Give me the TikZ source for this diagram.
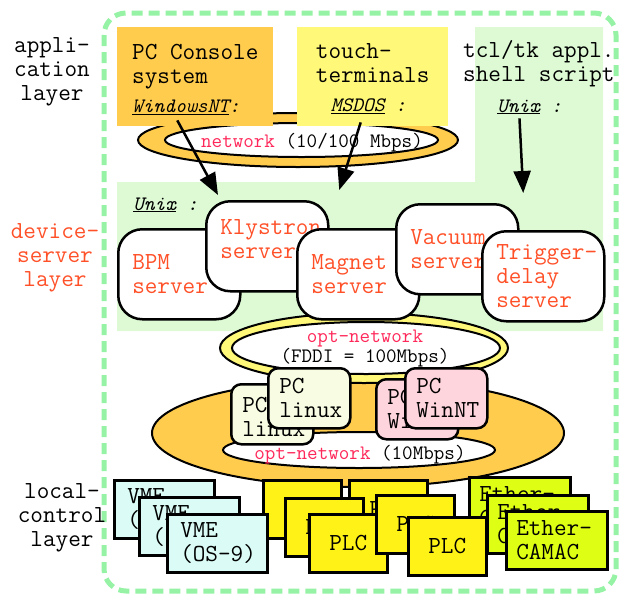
\documentclass[tikz,border=0pt]{standalone}
\usetikzlibrary{arrows.meta,shapes.geometric,positioning}

\definecolor{framegreen}{RGB}{150,242,165}
\definecolor{regiongreen}{RGB}{221,250,213}
\definecolor{netorange}{RGB}{255,204,77}
\definecolor{termyellow}{RGB}{255,248,120}
\definecolor{srvred}{RGB}{255,80,40}
\definecolor{netred}{RGB}{255,40,90}
\definecolor{linuxfill}{RGB}{248,252,226}
\definecolor{winfill}{RGB}{255,213,221}
\definecolor{vmefill}{RGB}{219,252,246}
\definecolor{plcfill}{RGB}{255,242,22}
\definecolor{camacfill}{RGB}{222,255,20}

\newcommand\bigfont{\fontsize{24.5}{24}\selectfont\ttfamily}
\newcommand\smallfont{\fontsize{20.5}{18}\selectfont\ttfamily}
\hyphenpenalty=10000
\exhyphenpenalty=10000

\begin{document}
\begin{tikzpicture}[
  x=1pt, y=-1pt,
  every node/.style={font=\bigfont, inner sep=0pt},
  box/.style={draw, line width=2.5pt, anchor=north west, align=left},
  appbox/.style={anchor=north west, inner xsep=15pt, align=left, minimum height=99pt},
  server/.style={box, fill=white, rounded corners=24pt, minimum width=122pt,
    minimum height=90pt, text width=94pt, inner xsep=14pt, text=srvred},
  pcbox/.style={box, rounded corners=10pt, minimum width=82pt, minimum height=60pt,
    text width=60pt, inner xsep=11pt},
  vmebox/.style={box, fill=vmefill, minimum width=100pt, minimum height=58pt,
    text width=74pt, inner xsep=13pt},
  plcbox/.style={box, fill=plcfill, minimum width=78pt, minimum height=58pt, align=center},
  camacbox/.style={box, fill=camacfill, minimum width=101pt, minimum height=58pt,
    text width=81pt, inner xsep=10pt},
  ring/.style={draw, line width=2pt},
  hole/.style={ellipse, draw, line width=2pt, fill=white},
  bigarrow/.style={line width=2.5pt, -{Triangle[length=22pt,width=17pt]}},
  layertext/.style={align=center, anchor=north}
]
\useasboundingbox (0,0) rectangle (625,598);

% frame and background
\draw[framegreen, line width=5pt, dash pattern=on 11pt off 6pt, rounded corners=22pt]
  (104,13) rectangle (616,591);
\fill[regiongreen] (475,27) -- (603,27) -- (603,331) -- (117,331) -- (117,182)
  -- (475,182) -- cycle;

% application layer
\draw[ring, fill=netorange] (298,140) ellipse [x radius=160pt, y radius=27pt];
\node[hole, minimum width=273pt, minimum height=34pt] (lan) at (301.5,140) {};
\node[anchor=base, font=\smallfont] (lantext) at (312,147)
  {\textcolor{netred}{network} (10/100 Mbps)};

\node[appbox, fill=netorange, minimum width=156pt] (pcc) at (117,27)
  {\rule{0pt}{21pt}PC Console\\system\\[5pt]{\smallfont\itshape\underline{WindowsNT}:}};
\node[appbox, fill=termyellow, minimum width=151pt] (touch) at (297,27)
  {\rule{0pt}{19pt}touch-\\terminals\\[5pt]\hspace*{15pt}{\smallfont\itshape\underline{MSDOS} :}};
\node[anchor=north west, align=left] (tcl) at (463,40) {tcl/tk appl.\\shell script};
\node[anchor=base west, font=\smallfont] (unixa) at (497,112) {\itshape\underline{Unix} :};

% device-server layer
\node[anchor=base west, font=\smallfont] (unixb) at (133,210) {\itshape\underline{Unix} :};

% local control layer network
\draw[ring, fill=netorange] (358,433) ellipse [x radius=206pt, y radius=54pt];
\node[hole, minimum width=272pt, minimum height=36pt] (ctl) at (359,450) {};
\node[anchor=base, font=\smallfont] (ctltext) at (360,459)
  {\textcolor{netred}{opt-network} (10Mbps)};

% FDDI
\draw[ring, fill=termyellow] (364,348) ellipse [x radius=144pt, y radius=35pt];
\node[hole, minimum width=268pt, minimum height=52pt] (fddi) at (366,348) {};
\node[anchor=north, align=center, font=\smallfont] (fdditext) at (365,330)
  {\textcolor{netred}{opt-network}\\(FDDI = 100Mbps)};

% servers
\node[server] (bpm) at (117,228) {BPM\\server};
\node[server] (klys) at (205,200) {Klystron\\server\rule[-14pt]{0pt}{0pt}};
\node[server] (mag) at (296,228) {Magnet\\server};
\node[server] (vac) at (395,203) {Vacuum\\server};
\node[server] (trig) at (481,230) {Trigger-\\delay\\server};

% arrows
\draw[bigarrow] ([xshift=-18pt,yshift=6pt]pcc.south) -- ([xshift=13pt,yshift=5pt]klys.north west);
\draw[bigarrow] ([xshift=-12pt,yshift=4pt]touch.south) -- ([xshift=-19pt,yshift=38pt]mag.north);
\draw[bigarrow] ([xshift=-10pt,yshift=-4pt]unixa.south) -- ([xshift=-20pt,yshift=37pt]trig.north);

% PCs
\node[pcbox, fill=linuxfill] (linux1) at (230,383) {\rule{0pt}{20pt}PC\\linux};
\node[pcbox, fill=linuxfill] (linux2) at (267,367) {PC\\linux};
\node[pcbox, fill=winfill] (winnt1) at (375,378) {PC\\WinNT};
\node[pcbox, fill=winfill] (winnt2) at (404,367) {PC\\WinNT};

% Ether-CAMAC
\node[camacbox] (camac1) at (468,476) {Ether-\\CAMAC};
\node[camacbox] (camac2) at (486,494) {Ether-\\CAMAC};
\node[camacbox] (camac3) at (505,510) {Ether-\\CAMAC};

% PLCs
\node[plcbox] (plc1) at (262,479) {PLC};
\node[plcbox] (plc4) at (348,479) {PLC};
\node[plcbox] (plc2) at (284,497) {PLC};
\node[plcbox] (plc3) at (308,513) {PLC};
\node[plcbox] (plc5) at (375,494) {PLC};
\node[plcbox] (plc6) at (407,516) {PLC};

% VMEs
\node[vmebox] (vme1) at (113,479) {VME\\(OS-9)};
\node[vmebox] (vme2) at (138,496) {VME\\(OS-9)};
\node[vmebox] (vme3) at (166,513) {VME\\(OS-9)};

% layer names
\node[layertext] (applab) at (52,37) {appli-\\cation\\layer};
\node[layertext, text=srvred] (devlab) at (55,223) {device-\\server\\layer};
\node[layertext] (loclab) at (62,483) {local-\\control\\layer};
\end{tikzpicture}
\end{document}
